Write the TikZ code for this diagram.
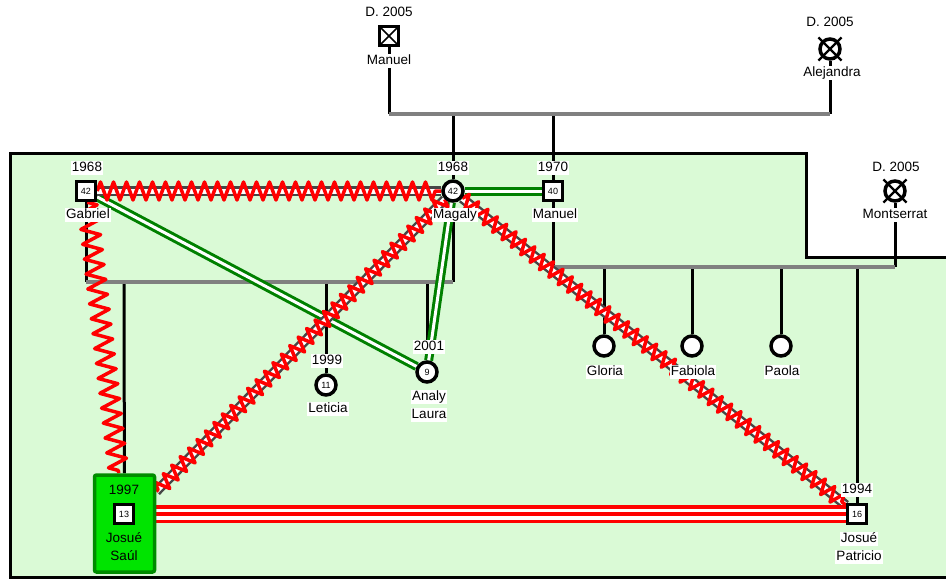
\documentclass[tikz,border=0pt]{standalone}
\usepackage{fontspec}
\setmainfont{Liberation Sans}
\usetikzlibrary{positioning,calc,decorations.pathmorphing,shapes.misc,backgrounds}

\definecolor{bggreen}{RGB}{218,250,214}
\definecolor{relgreen}{RGB}{0,128,0}
\definecolor{boxgreen}{RGB}{0,228,0}
\definecolor{boxborder}{RGB}{0,140,0}
\definecolor{famgray}{RGB}{128,128,128}
\definecolor{distgray}{RGB}{70,70,70}

\newcommand\lblfont{\fontsize{13.5}{15}\selectfont}
\newcommand\numfont{\fontsize{9}{10}\selectfont}

\tikzset{
  male/.style={rectangle,draw,line width=3.5pt,fill=white,minimum size=19pt,inner sep=0pt,font=\numfont},
  female/.style={circle,draw,line width=3.5pt,fill=white,minimum size=20pt,inner sep=0pt,font=\numfont},
  deadmale/.style={male,path picture={\draw[line width=1.5pt]
      (path picture bounding box.south west) -- (path picture bounding box.north east)
      (path picture bounding box.north west) -- (path picture bounding box.south east);}},
  deadmark/.style={cross out,draw,line width=2.2pt,minimum size=21pt,inner sep=0pt},
  lbl/.style={fill=white,inner sep=1pt,font=\lblfont,text height=9.8pt,text depth=2.6pt},
  boxlbl/.style={inner sep=1pt,font=\lblfont,text height=9.8pt,text depth=2.6pt},
  kin/.style={line width=3pt},
  union/.style={famgray,line width=3.5pt},
  close/.style={relgreen,line width=3pt,double=white,double distance=3pt},
  distant/.style={distgray,line width=2.5pt,double=white,double distance=5pt},
  hostile/.style={red,line width=3.5pt,line join=round,decorate,decoration={zigzag,segment length=12pt,amplitude=7.5pt}},
  violent/.style={red,line width=3.5pt,double=white,double distance=11pt},
}

\begin{document}
\begin{tikzpicture}[x=1pt,y=-1pt]
\useasboundingbox (0,0) rectangle (946,579);

% people
\node[deadmale] (manuelsr) at (389,36) {};
\node[female] (alejandra) at (830,49) {};
\node[deadmark] (alejandra-x) at (alejandra) {};
\node[male] (gabriel) at (86,191) {42};
\node[female] (magaly) at (453,191) {42};
\node[male] (manuel) at (553,191) {40};
\node[female] (montserrat) at (895,191) {};
\node[deadmark] (montserrat-x) at (montserrat) {};
\node[female] (leticia) at (326,385) {11};
\node[female] (analy) at (427,372) {9};
\node[female] (gloria) at (604,346) {};
\node[female] (fabiola) at (692,346) {};
\node[female] (paola) at (781,346) {};
\node[male] (patricio) at (857,514) {16};
\node[draw=boxborder,fill=boxgreen,line width=3.5pt,rounded corners=2pt,
      minimum width=60pt,minimum height=97pt] (saulbox) at (124.5,523.5) {};
\node[male] (saul) at (124,514) {13};

% labels
\node[lbl] (manuelsr-d) at (389,13) {D. 2005};
\node[lbl] (manuelsr-n) at (389,61) {Manuel};
\node[lbl] (alejandra-d) at (830,23) {D. 2005};
\node[lbl] (alejandra-n) at (832,73) {Alejandra};
\node[lbl] (gabriel-y) at (87,168) {1968};
\node[lbl] (gabriel-n) at (88,215) {Gabriel};
\node[lbl] (magaly-y) at (453,168) {1968};
\node[lbl] (magaly-n) at (455,215) {Magaly};
\node[lbl] (manuel-y) at (553,168) {1970};
\node[lbl] (manuel-n) at (555,215) {Manuel};
\node[lbl] (montserrat-d) at (896,168) {D. 2005};
\node[lbl] (montserrat-n) at (895,215) {Montserrat};
\node[lbl] (leticia-y) at (327,361) {1999};
\node[lbl] (leticia-n) at (328,409) {Leticia};
\node[lbl] (analy-y) at (429,347) {2001};
\node[lbl] (analy-n1) at (429,397) {Analy};
\node[lbl] (analy-n2) at (429,415) {Laura};
\node[lbl] (gloria-n) at (605,372) {Gloria};
\node[lbl] (fabiola-n) at (693,372) {Fabiola};
\node[lbl] (paola-n) at (782,372) {Paola};
\node[lbl] (patricio-y) at (857,490) {1994};
\node[lbl] (patricio-n1) at (859,539) {Josué};
\node[lbl] (patricio-n2) at (859,557) {Patricio};
\node[boxlbl] (saul-y) at (124,491) {1997};
\node[boxlbl] (saul-n1) at (124,539) {Josué};
\node[boxlbl] (saul-n2) at (124,557) {Saúl};

\begin{scope}[on background layer]
% household frame
\fill[bggreen] (10,153) -- (806,153) -- (806,257) -- (946,257) -- (946,577) -- (10,577) -- cycle;
\draw[line width=3pt] (946,257) -- (806,257) -- (806,153) -- (10,153) -- (10,577) -- (946,577);

% families
\coordinate (u1l) at (389,114);
\coordinate (u1r) at (830,114);
\coordinate (u2l) at (86,282);
\coordinate (u2r) at (453,282);
\coordinate (u3l) at (553,267);
\coordinate (u3r) at (895,267);

\draw[kin] (manuelsr) -- (u1l);
\draw[kin] (alejandra) -- (u1r);
\draw[kin] (magaly |- u1l) -- (magaly);
\draw[kin] (manuel |- u1l) -- (manuel);
\draw[union] (u1l) -- (u1r);

\draw[kin] (gabriel) -- (u2l);
\draw[kin] (magaly) -- (u2r);
\draw[kin] (saul |- u2l) -- (saulbox);
\draw[kin] (leticia |- u2l) -- (leticia);
\draw[kin] (analy |- u2l) -- (analy);
\draw[union] (u2l) -- (u2r);

\draw[kin] (manuel) -- (u3l);
\draw[kin] (montserrat) -- (u3r);
\draw[kin] (gloria |- u3l) -- (gloria);
\draw[kin] (fabiola |- u3l) -- (fabiola);
\draw[kin] (paola |- u3l) -- (paola);
\draw[kin] (patricio |- u3l) -- (patricio);
\draw[union] (u3l) -- (u3r);

% relationships
\draw[close] (gabriel) -- (analy);
\draw[close] (magaly) -- (analy);
\draw[close] (magaly) -- (manuel);

\draw[distant] (gabriel) -- (magaly);
\draw[hostile,decoration={amplitude=9pt,segment length=13pt}] (gabriel) -- (magaly);
\draw[distant] (magaly) -- (patricio);
\draw[hostile] (magaly) -- (patricio);
\draw[distant] (magaly) -- (saulbox);
\draw[hostile] (magaly) -- (saulbox);
\draw[hostile,decoration={amplitude=9.5pt,segment length=15pt}] (gabriel) -- (saulbox);

\draw[violent] (saulbox.east |- patricio) -- (patricio);
\draw[red,line width=3.5pt] (saulbox.east |- patricio) -- (patricio);
\end{scope}
\end{tikzpicture}
\end{document}
